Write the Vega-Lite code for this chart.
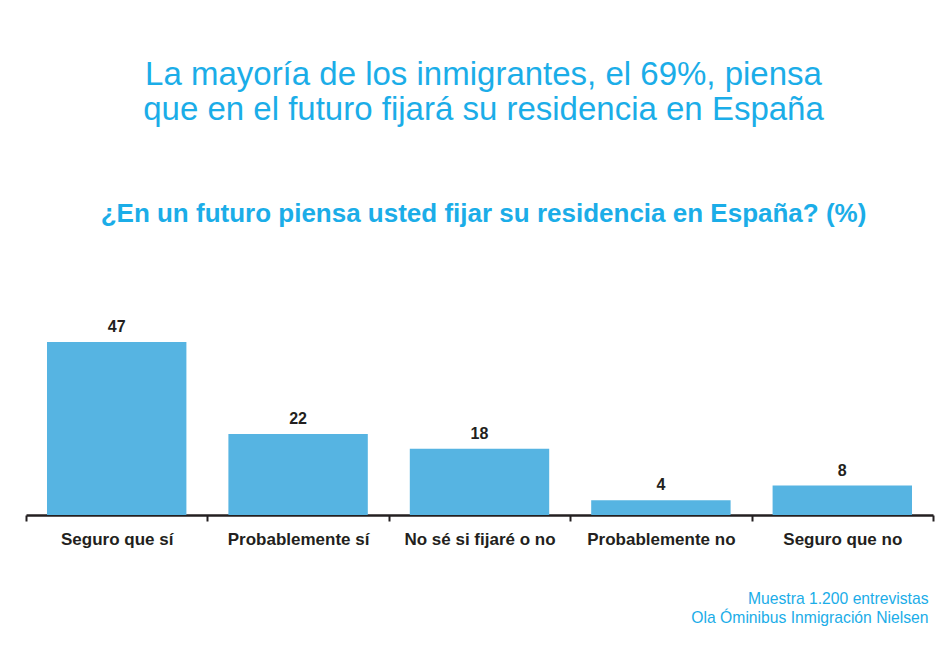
{
  "$schema": "https://vega.github.io/schema/vega-lite/v6.json",
  "width": 907,
  "height": 184,
  "autosize": "none",
  "padding": {"left": 26, "top": 331, "right": 7, "bottom": 143},
  "background": "white",
  "title": {
    "text": ["La mayoría de los inmigrantes, el 69%, piensa", "que en el futuro fijará su residencia en España"],
    "subtitle": "¿En un futuro piensa usted fijar su residencia en España? (%)",
    "anchor": "middle",
    "frame": "group",
    "dx": 4,
    "font": "Liberation Sans",
    "fontSize": 33,
    "fontWeight": "normal",
    "lineHeight": 35,
    "color": "#1BADE8",
    "subtitleFont": "Liberation Sans",
    "subtitleFontSize": 26,
    "subtitleFontWeight": "bold",
    "subtitleColor": "#1BADE8",
    "subtitlePadding": 74,
    "offset": 92
  },
  "data": {
    "values": [
      {"respuesta": "Seguro que sí", "pct": 47},
      {"respuesta": "Probablemente sí", "pct": 22},
      {"respuesta": "No sé si fijaré o no", "pct": 18},
      {"respuesta": "Probablemente no", "pct": 4},
      {"respuesta": "Seguro que no", "pct": 8}
    ]
  },
  "encoding": {
    "x": {
      "field": "respuesta",
      "type": "nominal",
      "sort": null,
      "scale": {"paddingInner": 0, "paddingOuter": 0},
      "axis": {
        "labelAngle": 0,
        "labelFont": "Liberation Sans",
        "labelFontSize": 17,
        "labelFontWeight": "bold",
        "labelColor": "#231F20",
        "labelPadding": 10,
        "domainColor": "#231F20",
        "domainWidth": 2.5,
        "tickColor": "#231F20",
        "tickWidth": 2,
        "tickSize": 6,
        "tickBand": "extent",
        "grid": false,
        "title": ["Muestra 1.200 entrevistas", "Ola Óminibus Inmigración Nielsen"],
        "titleFont": "Liberation Sans",
        "titleFontSize": 15.7,
        "titleFontWeight": "normal",
        "titleColor": "#1BADE8",
        "titleLineHeight": 19,
        "titleAnchor": "end",
        "titleAlign": "right",
        "titleX": 902,
        "titlePadding": 44
      }
    },
    "y": {
      "field": "pct",
      "type": "quantitative",
      "scale": {"domain": [0, 50], "nice": false},
      "axis": null
    }
  },
  "layer": [
    {"mark": {"type": "bar", "color": "#56B4E2", "width": {"band": 0.7685}}},
    {
      "mark": {"type": "text", "baseline": "bottom", "dy": -7, "font": "Liberation Sans", "fontSize": 16, "fontWeight": "bold", "color": "#231F20"},
      "encoding": {"text": {"field": "pct", "type": "quantitative"}}
    }
  ],
  "config": {"view": {"stroke": null}}
}
